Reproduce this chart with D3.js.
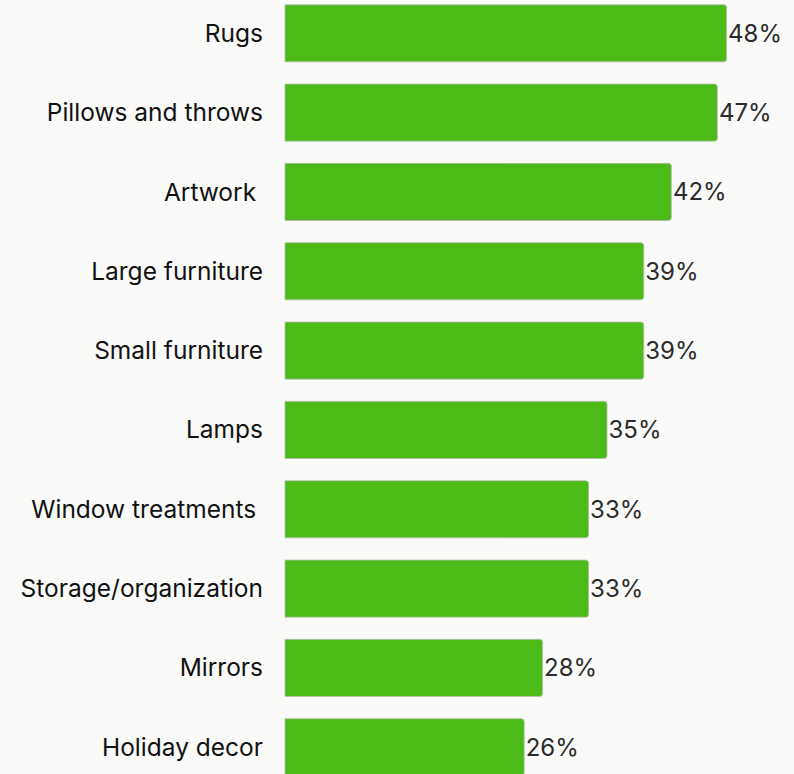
<!DOCTYPE html>
<html>
<head>
<meta charset="utf-8">
<script src="https://cdn.jsdelivr.net/npm/d3@7"></script>
<style>
  html, body { margin: 0; padding: 0; background: #fafaf9; overflow: hidden; }
  svg { display: block; }
</style>
</head>
<body>
<svg id="chart" width="794" height="774"></svg>
<script>
// Share of respondents by home-decor category
const categories = [
  "Rugs", "Pillows and throws", "Artwork ", "Large furniture", "Small furniture",
  "Lamps", "Window treatments ", "Storage/organization", "Mirrors", "Holiday decor"
];
const shares = [48, 47, 42, 39, 39, 35, 33, 33, 28, 26];

const width = 794, height = 774;
const barLeft = 285;

const svg = d3.select("#chart");

const x = d3.scaleLinear().domain([0, 50]).range([barLeft, barLeft + 460]);
const y = d3.scaleBand()
  .domain(categories)
  .range([-6.4, 786.9])
  .paddingInner(0.28)
  .paddingOuter(0.14);

const rows = svg.selectAll("g.row")
  .data(categories.map((c, i) => ({ cat: c, v: shares[i] })))
  .join("g")
  .attr("class", "row");

// bar with square left edge and softly rounded right end
const r = 3;
rows.append("path")
  .attr("d", d => {
    const x0 = x(0), x1 = x(d.v), y0 = y(d.cat), y1 = y0 + y.bandwidth();
    return `M${x0},${y0}H${x1 - r}Q${x1},${y0} ${x1},${y0 + r}V${y1 - r}Q${x1},${y1} ${x1 - r},${y1}H${x0}Z`;
  })
  .attr("fill", "#4cbb17")
  .attr("stroke", "#b9bcb5")
  .attr("stroke-width", 0.8);

rows.append("text")
  .attr("x", 263)
  .attr("y", d => y(d.cat) + y.bandwidth() / 2)
  .attr("dy", "0.35em")
  .attr("text-anchor", "end")
  .attr("xml:space", "preserve")
  .style("white-space", "pre")
  .attr("font-family", "Inter, sans-serif")
  .attr("font-size", 24.5)
  .attr("fill", "#111")
  .text(d => d.cat);

rows.append("text")
  .attr("x", d => x(d.v) + 1.5)
  .attr("y", d => y(d.cat) + y.bandwidth() / 2)
  .attr("dy", "0.35em")
  .attr("font-family", "Inter, sans-serif")
  .attr("font-size", 24)
  .attr("fill", "#2b2b2b")
  .text(d => d.v + "%");
</script>
</body>
</html>
